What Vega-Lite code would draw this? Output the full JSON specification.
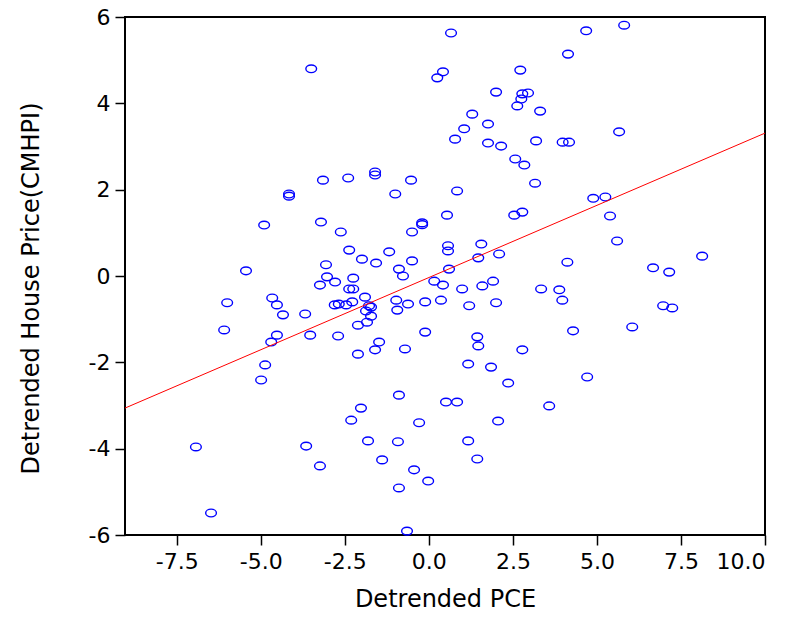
{
  "$schema": "https://vega.github.io/schema/vega-lite/v6.json",
  "width": 640,
  "height": 518,
  "autosize": {"type": "none"},
  "padding": {"left": 125, "top": 17, "right": 28, "bottom": 97},
  "background": "white",
  "config": {
    "view": {"stroke": "black", "strokeWidth": 2},
    "axis": {"grid": false, "domain": false, "tickColor": "black", "tickWidth": 1.5, "tickSize": 10,
      "labelFont": "DejaVu Sans", "labelFontSize": 22, "labelColor": "black",
      "titleFont": "DejaVu Sans", "titleFontSize": 24, "titleFontWeight": "normal", "titleColor": "black"}
  },
  "datasets": {
    "pts": [
      {"x": 5.81, "y": 5.81}, {"x": 4.68, "y": 5.68}, {"x": 0.66, "y": 5.63}, {"x": 4.14, "y": 5.14},
      {"x": 0.42, "y": 4.73}, {"x": 0.25, "y": 4.59}, {"x": 2.72, "y": 4.77}, {"x": 2.0, "y": 4.26},
      {"x": 2.78, "y": 4.22}, {"x": 2.95, "y": 4.24}, {"x": 2.75, "y": 4.1}, {"x": 2.63, "y": 3.94},
      {"x": 3.31, "y": 3.82}, {"x": 1.29, "y": 3.75}, {"x": 1.76, "y": 3.52}, {"x": 1.05, "y": 3.41},
      {"x": 0.78, "y": 3.17}, {"x": 1.76, "y": 3.08}, {"x": 2.15, "y": 3.01}, {"x": 3.19, "y": 3.13},
      {"x": 2.57, "y": 2.71}, {"x": 2.84, "y": 2.57}, {"x": -2.4, "y": 2.27}, {"x": -1.6, "y": 2.41},
      {"x": -1.6, "y": 2.34}, {"x": -0.53, "y": 2.22}, {"x": -1.0, "y": 1.9}, {"x": 0.84, "y": 1.97},
      {"x": 3.16, "y": 2.15}, {"x": -3.5, "y": 4.8}, {"x": -3.15, "y": 2.22}, {"x": -4.16, "y": 1.9},
      {"x": -4.16, "y": 1.85}, {"x": 5.66, "y": 3.34}, {"x": 3.98, "y": 3.1}, {"x": 4.17, "y": 3.1},
      {"x": 4.89, "y": 1.8}, {"x": 5.25, "y": 1.83}, {"x": 5.39, "y": 1.39}, {"x": 5.6, "y": 0.81},
      {"x": 4.12, "y": 0.32}, {"x": 8.13, "y": 0.46}, {"x": 6.67, "y": 0.19}, {"x": 7.15, "y": 0.09},
      {"x": 3.34, "y": -0.3}, {"x": 3.88, "y": -0.32}, {"x": 3.97, "y": -0.56}, {"x": 6.97, "y": -0.69},
      {"x": 7.24, "y": -0.74}, {"x": 4.29, "y": -1.27}, {"x": 6.05, "y": -1.18}, {"x": 4.71, "y": -2.34},
      {"x": 3.58, "y": -3.01}, {"x": -4.9, "y": 1.18}, {"x": -3.21, "y": 1.25}, {"x": -2.62, "y": 1.02},
      {"x": -5.44, "y": 0.12}, {"x": -3.06, "y": 0.26}, {"x": -3.03, "y": -0.02}, {"x": -2.79, "y": -0.14},
      {"x": -3.24, "y": -0.21}, {"x": -6.0, "y": -0.62}, {"x": -4.66, "y": -0.51}, {"x": -4.52, "y": -0.67},
      {"x": -4.34, "y": -0.9}, {"x": -3.68, "y": -0.88}, {"x": -2.8, "y": -0.67}, {"x": -2.68, "y": -0.65},
      {"x": -2.46, "y": -0.67}, {"x": -6.09, "y": -1.25}, {"x": -4.52, "y": -1.37}, {"x": -4.69, "y": -1.53},
      {"x": -3.53, "y": -1.37}, {"x": -2.7, "y": -1.39}, {"x": -4.87, "y": -2.06}, {"x": -4.99, "y": -2.41},
      {"x": -6.93, "y": -3.96}, {"x": -3.65, "y": -3.94}, {"x": -3.24, "y": -4.4}, {"x": -6.48, "y": -5.49},
      {"x": 0.54, "y": 1.41}, {"x": 2.54, "y": 1.41}, {"x": 2.78, "y": 1.48}, {"x": -0.2, "y": 1.23},
      {"x": -0.2, "y": 1.19}, {"x": -0.5, "y": 1.02}, {"x": 0.57, "y": 0.7}, {"x": 0.57, "y": 0.58},
      {"x": 1.56, "y": 0.74}, {"x": -2.37, "y": 0.6}, {"x": -1.18, "y": 0.56}, {"x": -1.99, "y": 0.39},
      {"x": -1.57, "y": 0.3}, {"x": -0.5, "y": 0.35}, {"x": 1.47, "y": 0.42}, {"x": 2.09, "y": 0.51},
      {"x": 0.6, "y": 0.16}, {"x": -0.89, "y": 0.16}, {"x": -0.77, "y": 0.0}, {"x": -2.25, "y": -0.05},
      {"x": 0.16, "y": -0.12}, {"x": 0.42, "y": -0.21}, {"x": 1.91, "y": -0.12}, {"x": 0.99, "y": -0.3},
      {"x": 1.59, "y": -0.23}, {"x": -2.37, "y": -0.3}, {"x": -2.25, "y": -0.3}, {"x": -1.9, "y": -0.49},
      {"x": -0.97, "y": -0.56}, {"x": -0.11, "y": -0.6}, {"x": 0.36, "y": -0.56}, {"x": -2.28, "y": -0.6},
      {"x": -0.94, "y": -0.79}, {"x": -0.62, "y": -0.65}, {"x": -1.78, "y": -0.69}, {"x": -1.72, "y": -0.72},
      {"x": -1.87, "y": -0.81}, {"x": -1.72, "y": -0.93}, {"x": 1.2, "y": -0.69}, {"x": 2.0, "y": -0.62},
      {"x": -1.84, "y": -1.07}, {"x": -2.11, "y": -1.14}, {"x": -0.11, "y": -1.3}, {"x": -1.48, "y": -1.53},
      {"x": -1.6, "y": -1.71}, {"x": -0.71, "y": -1.69}, {"x": -2.11, "y": -1.81}, {"x": 1.44, "y": -1.41},
      {"x": 1.47, "y": -1.62}, {"x": 2.78, "y": -1.71}, {"x": 1.17, "y": -2.04}, {"x": 1.85, "y": -2.11},
      {"x": 2.36, "y": -2.48}, {"x": -0.89, "y": -2.76}, {"x": -2.02, "y": -3.06}, {"x": -2.31, "y": -3.34},
      {"x": 0.51, "y": -2.92}, {"x": 0.84, "y": -2.92}, {"x": -0.29, "y": -3.4}, {"x": 2.06, "y": -3.36},
      {"x": -1.81, "y": -3.82}, {"x": -0.92, "y": -3.84}, {"x": 1.17, "y": -3.82}, {"x": -1.39, "y": -4.26},
      {"x": 1.44, "y": -4.24}, {"x": -0.44, "y": -4.49}, {"x": -0.02, "y": -4.75}, {"x": -0.89, "y": -4.91},
      {"x": -0.65, "y": -5.91}
    ],
    "fit": [{"x": -9.04, "y": -3.06}, {"x": 10.0, "y": 3.31}]
  },
  "layer": [
    {
      "data": {"name": "pts"},
      "mark": {"type": "point", "shape": "M -1 0 A 1 0.72 0 1 0 1 0 A 1 0.72 0 1 0 -1 0 Z", "size": 115, "filled": false, "stroke": "#0000ff", "strokeWidth": 1.4, "opacity": 1},
      "encoding": {
        "x": {"field": "x", "type": "quantitative", "scale": {"domain": [-9.04, 10.0], "nice": false, "zero": false},
          "axis": {"values": [-7.5, -5.0, -2.5, 0.0, 2.5, 5.0, 7.5, 10.0], "format": ".1f", "labelExpr": "replace(datum.label, '\u2212', '-')", "title": "Detrended PCE", "labelPadding": 6, "titlePadding": 15}},
        "y": {"field": "y", "type": "quantitative", "scale": {"domain": [-6, 6], "nice": false, "zero": false},
          "axis": {"values": [-6, -4, -2, 0, 2, 4, 6], "format": "d", "labelExpr": "replace(datum.label, '\u2212', '-')", "title": "Detrended House Price(CMHPI)", "labelPadding": 5, "titlePadding": 45, "titleY": 271}}
      }
    },
    {
      "data": {"name": "fit"},
      "mark": {"type": "line", "color": "#ff0000", "strokeWidth": 1, "clip": true},
      "encoding": {
        "x": {"field": "x", "type": "quantitative"},
        "y": {"field": "y", "type": "quantitative"}
      }
    }
  ]
}
